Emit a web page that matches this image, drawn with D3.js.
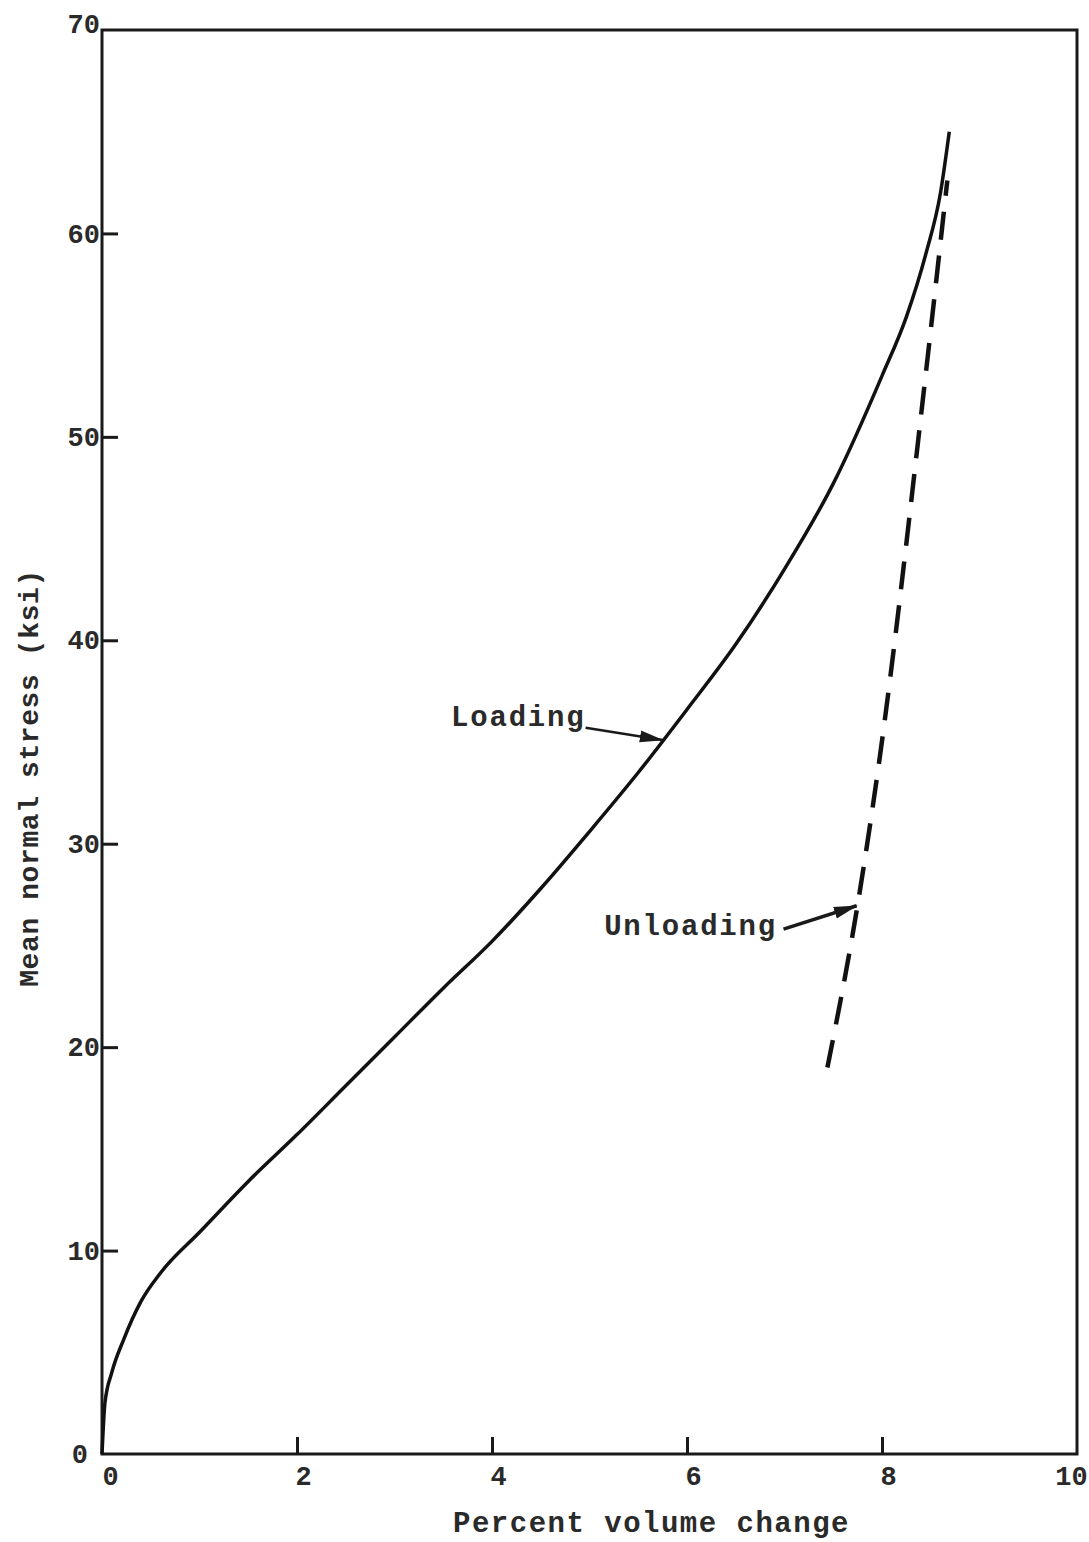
<!DOCTYPE html>
<html>
<head>
<meta charset="utf-8">
<script src="https://cdn.jsdelivr.net/npm/d3@7"></script>
<style>
  body { margin: 0; background: #fff; }
  svg text { font-family: "Liberation Mono", "DejaVu Sans Mono", monospace; fill: #2a2a2a; }
</style>
</head>
<body>
<div id="chart"></div>
<script>
// Loading curve (percent volume change, ksi)
const loadingX = [0, 0.03, 0.1, 0.22, 0.4, 0.6, 1.0, 1.5, 2.0, 2.5, 3.0, 3.5, 4.0, 4.5, 5.0, 5.5, 6.0, 6.5, 7.0, 7.5, 8.0, 8.25, 8.45, 8.6, 8.69];
const loadingY = [0, 2.5, 4.0, 5.6, 7.5, 8.9, 10.9, 13.4, 15.7, 18.1, 20.5, 22.9, 25.2, 27.8, 30.6, 33.5, 36.6, 39.8, 43.5, 47.7, 53.0, 55.9, 59.0, 62.0, 65.0];

// Unloading curve (dashed)
const unloadingX = [7.44, 7.75, 7.97, 8.43, 8.67];
const unloadingY = [19.0, 27.0, 34.0, 52.3, 62.6];

const xTicks = [0, 2, 4, 6, 8, 10];
const yTicks = [0, 10, 20, 30, 40, 50, 60, 70];

// annotations: label, text anchor point, arrow start, arrow tip (data units)
const annotations = [
    { label: 'Loading', text: [3.58, 35.8], from: [4.96, 35.7], to: [5.75, 35.1] },
    { label: 'Unloading', text: [5.15, 25.5], from: [6.99, 25.8], to: [7.74, 26.95] }
];

const width = 1089, height = 1542;
const svg = d3.select('#chart').append('svg')
    .attr('width', width)
    .attr('height', height);

const x = d3.scaleLinear().domain([0, 10]).range([102, 1077]);
const y = d3.scaleLinear().domain([0, 70]).range([1454, 30]);

svg.append('defs').append('marker')
    .attr('id', 'head')
    .attr('viewBox', '0 0 20 10')
    .attr('refX', 19).attr('refY', 5)
    .attr('markerWidth', 24).attr('markerHeight', 13)
    .attr('markerUnits', 'userSpaceOnUse')
    .attr('orient', 'auto')
    .append('path')
    .attr('d', 'M0,0 L20,5 L0,10 Z')
    .attr('fill', '#1a1a1a');

// frame
svg.append('rect')
    .attr('x', x(0)).attr('y', y(70))
    .attr('width', x(10) - x(0)).attr('height', y(0) - y(70))
    .attr('fill', 'none').attr('stroke', '#1a1a1a').attr('stroke-width', 3);

// axes (ticks point inward)
const gx = svg.append('g')
    .attr('transform', `translate(0,${y(0)})`)
    .call(d3.axisBottom(x).tickValues(xTicks).tickFormat(d3.format('d'))
        .tickSizeInner(-17).tickSizeOuter(0).tickPadding(12));
gx.select('.domain').remove();
gx.selectAll('.tick line').attr('stroke', '#1a1a1a').attr('stroke-width', 3)
    .filter(d => d === 0 || d === 10).remove();
gx.selectAll('.tick text')
    .attr('font-size', 27).attr('font-weight', 'bold')
    .attr('font-family', '"Liberation Mono", monospace').attr('fill', '#2a2a2a')
    .attr('dx', d => d === 0 ? 8 : (d === 10 ? -6 : 6));

const gy = svg.append('g')
    .attr('transform', `translate(${x(0)},0)`)
    .call(d3.axisLeft(y).tickValues(yTicks).tickFormat(d3.format('d'))
        .tickSizeInner(-16).tickSizeOuter(0).tickPadding(2));
gy.select('.domain').remove();
gy.selectAll('.tick line').attr('stroke', '#1a1a1a').attr('stroke-width', 3)
    .filter(d => d === 0 || d === 70).remove();
gy.selectAll('.tick text')
    .attr('font-size', 27).attr('font-weight', 'bold')
    .attr('font-family', '"Liberation Mono", monospace')
    .attr('fill', '#333').attr('dy', d => d === 70 ? '0.1em' : '0.32em')
    .attr('dx', d => d === 0 ? -12 : 0);

// axis titles
svg.append('text')
    .attr('x', (x(0) + x(10)) / 2 + 62).attr('y', 1532)
    .attr('text-anchor', 'middle')
    .attr('font-size', 29).attr('font-weight', 'bold')
    .attr('letter-spacing', 1.5)
    .text('Percent volume change');

svg.append('text')
    .attr('transform', `translate(38,${(y(0) + y(70)) / 2 + 36}) rotate(-90)`)
    .attr('text-anchor', 'middle')
    .attr('font-size', 28).attr('font-weight', 'bold')
    .attr('letter-spacing', 0.6)
    .text('Mean normal stress (ksi)');

// curves
const line = d3.line()
    .x(d => x(d[0])).y(d => y(d[1]))
    .curve(d3.curveMonotoneX);

svg.append('path')
    .datum(d3.zip(loadingX, loadingY))
    .attr('d', line)
    .attr('fill', 'none').attr('stroke', '#111').attr('stroke-width', 3.5);

svg.append('path')
    .datum(d3.zip(unloadingX, unloadingY))
    .attr('d', line)
    .attr('fill', 'none').attr('stroke', '#111').attr('stroke-width', 4.5)
    .attr('stroke-dasharray', '28,16');

// annotations
const ann = svg.append('g');
ann.selectAll('text')
    .data(annotations)
    .join('text')
    .attr('x', d => x(d.text[0])).attr('y', d => y(d.text[1]))
    .attr('font-size', 29).attr('font-weight', 'bold')
    .attr('letter-spacing', 1.8)
    .text(d => d.label);

ann.selectAll('line')
    .data(annotations)
    .join('line')
    .attr('x1', d => x(d.from[0])).attr('y1', d => y(d.from[1]))
    .attr('x2', d => x(d.to[0])).attr('y2', d => y(d.to[1]))
    .attr('stroke', '#1a1a1a')
    .attr('stroke-width', (d, i) => i === 0 ? 2.5 : 3.5)
    .attr('marker-end', 'url(#head)');
</script>
</body>
</html>
